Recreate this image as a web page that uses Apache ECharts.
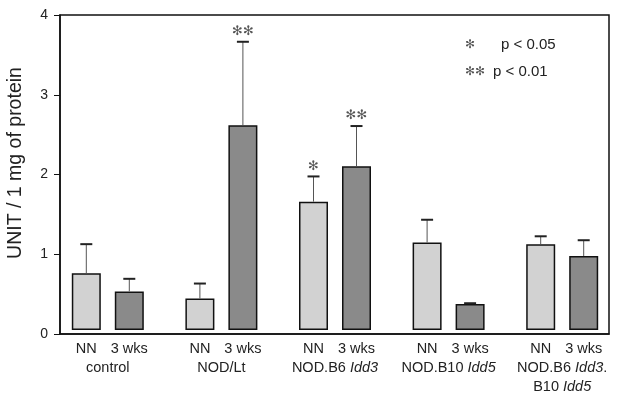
<!DOCTYPE html>
<html><head><meta charset="utf-8">
<script src="https://cdn.jsdelivr.net/npm/echarts@6/dist/echarts.min.js"></script>
<style>html,body{margin:0;padding:0;background:#fff}#c{width:619px;height:394px}</style>
</head><body><div id="c"></div>
<script>
// ---- data ----
var groups = ['control', 'NOD/Lt', 'NOD.B6 Idd3', 'NOD.B10 Idd5', 'NOD.B6 Idd3.B10 Idd5'];
var barNames = ['NN', '3 wks'];
var nnValues = [0.72, 0.40, 1.63, 1.11, 1.09];
var nnErrTop = [1.09, 0.59, 1.95, 1.40, 1.19];
var wksValues = [0.49, 2.60, 2.08, 0.33, 0.94];
var wksErrTop = [0.65, 3.66, 2.59, 0.34, 1.14];
var nnSig = ['', '', '*', '', ''];
var wksSig = ['', '**', '**', '', ''];
var yTicks = [0, 1, 2, 3, 4];
var legendItems = [['*', 'p < 0.05'], ['**', 'p < 0.01']];

// ---- styles ----
var BAR_W = 29, BAR_GAP = 14;
var FONT = '"Liberation Sans", Arial, sans-serif';
var LABEL_SIZE = 14.5;
var STAR = '\u273B';
function stars(s) { return s.replace(/\*/g, STAR); }

var groupLabels = {
  'control': '{n|control}',
  'NOD/Lt': '{n|NOD/Lt}',
  'NOD.B6 Idd3': '{n|NOD.B6 }{i|Idd3}',
  'NOD.B10 Idd5': '{n|NOD.B10 }{i|Idd5}',
  'NOD.B6 Idd3.B10 Idd5': '{n|NOD.B6 }{i|Idd3}{n|.}\n{n|B10 }{i|Idd5}'
};

function errData(vals, tops, sig) {
  return vals.map(function (v, i) { return [i, v, tops[i], stars(sig[i])]; });
}
function errRender(side) {
  return function (params, api) {
    var off = side * (BAR_W + BAR_GAP) / 2;
    var p0 = api.coord([api.value(0), api.value(1)]);
    var p1 = api.coord([api.value(0), api.value(2)]);
    var x = p0[0] + off;
    var children = [
      { type: 'line', shape: { x1: x, y1: p0[1], x2: x, y2: p1[1] }, style: { stroke: '#555', lineWidth: 1 } },
      { type: 'line', shape: { x1: x - 6, y1: p1[1], x2: x + 6, y2: p1[1] }, style: { stroke: '#222', lineWidth: 2 } }
    ];
    var s = api.value(3);
    if (s) {
      children.push({ type: 'text', x: x, y: p1[1] - 10,
        style: { text: s, fill: '#555', font: '13px "DejaVu Sans"', textAlign: 'center', textVerticalAlign: 'middle' } });
    }
    return { type: 'group', children: children };
  };
}

var rowStyle = { fontFamily: FONT, fontSize: LABEL_SIZE, color: '#222', lineHeight: 19 };
var chart = echarts.init(document.getElementById('c'));
var option = {
  animation: false,
  backgroundColor: '#fff',
  grid: [
    { left: 60, right: 10, top: 15, bottom: 60, show: true, borderColor: '#111', borderWidth: 1.5, backgroundColor: 'transparent' },
    { left: 51, width: 569, top: 15, bottom: 60 }
  ],
  xAxis: [
    { gridIndex: 0, type: 'value', min: 0, max: 1, axisLine: { show: true, lineStyle: { color: '#111', width: 1.5 } },
      axisTick: { show: false }, axisLabel: { show: false }, splitLine: { show: false } },
    { gridIndex: 1, type: 'category', data: groups, axisLine: { show: false }, axisTick: { show: false },
      axisLabel: {
        margin: 9, interval: 0,
        formatter: function (v) { return '{a|' + barNames[0] + '}{b|' + barNames[1] + '}\n' + groupLabels[v]; },
        rich: {
          a: Object.assign({ width: (BAR_W + BAR_GAP), align: 'center' }, rowStyle),
          b: Object.assign({ width: (BAR_W + BAR_GAP), align: 'center' }, rowStyle),
          n: Object.assign({}, rowStyle),
          i: Object.assign({ fontStyle: 'italic' }, rowStyle)
        }
      } }
  ],
  yAxis: [
    { gridIndex: 0, type: 'value', min: yTicks[0], max: yTicks[yTicks.length - 1], interval: 1,
      axisLine: { show: true, lineStyle: { color: '#111', width: 1.5 } },
      axisTick: { show: true, inside: false, length: 6, lineStyle: { color: '#111' } },
      axisLabel: { margin: 12, fontFamily: FONT, fontSize: 14, color: '#222' },
      splitLine: { show: false } },
    { gridIndex: 1, type: 'value', min: yTicks[0], max: yTicks[yTicks.length - 1], show: false }
  ],
  series: [
    { type: 'bar', name: barNames[0], xAxisIndex: 1, yAxisIndex: 1, data: nnValues, barWidth: BAR_W,
      barGap: (BAR_GAP / BAR_W * 100) + '%',
      itemStyle: { color: '#d2d2d2', borderColor: '#111', borderWidth: 1.5 } },
    { type: 'bar', name: barNames[1], xAxisIndex: 1, yAxisIndex: 1, data: wksValues, barWidth: BAR_W,
      barGap: (BAR_GAP / BAR_W * 100) + '%',
      itemStyle: { color: '#8a8a8a', borderColor: '#111', borderWidth: 1.5 } },
    { type: 'custom', xAxisIndex: 1, yAxisIndex: 1, data: errData(nnValues, nnErrTop, nnSig), renderItem: errRender(-1), z: 5 },
    { type: 'custom', xAxisIndex: 1, yAxisIndex: 1, data: errData(wksValues, wksErrTop, wksSig), renderItem: errRender(1), z: 5 }
  ],
  graphic: [
    { type: 'text', x: 16, y: 163, rotation: Math.PI / 2,
      style: { text: 'UNIT / 1 mg of protein', font: '19.5px ' + FONT, fill: '#222', textAlign: 'center', textVerticalAlign: 'middle' } },
    { type: 'text', x: 470, y: 45, style: { text: stars(legendItems[0][0]), font: '12px "DejaVu Sans"', fill: '#555', textAlign: 'center', textVerticalAlign: 'middle' } },
    { type: 'text', x: 501, y: 45, style: { text: legendItems[0][1], font: '15px ' + FONT, fill: '#222', textAlign: 'left', textVerticalAlign: 'middle' } },
    { type: 'text', x: 475, y: 72, style: { text: stars(legendItems[1][0]), font: '12px "DejaVu Sans"', fill: '#555', textAlign: 'center', textVerticalAlign: 'middle' } },
    { type: 'text', x: 493, y: 72, style: { text: legendItems[1][1], font: '15px ' + FONT, fill: '#222', textAlign: 'left', textVerticalAlign: 'middle' } }
  ]
};
chart.setOption(option);
</script>
</body></html>
